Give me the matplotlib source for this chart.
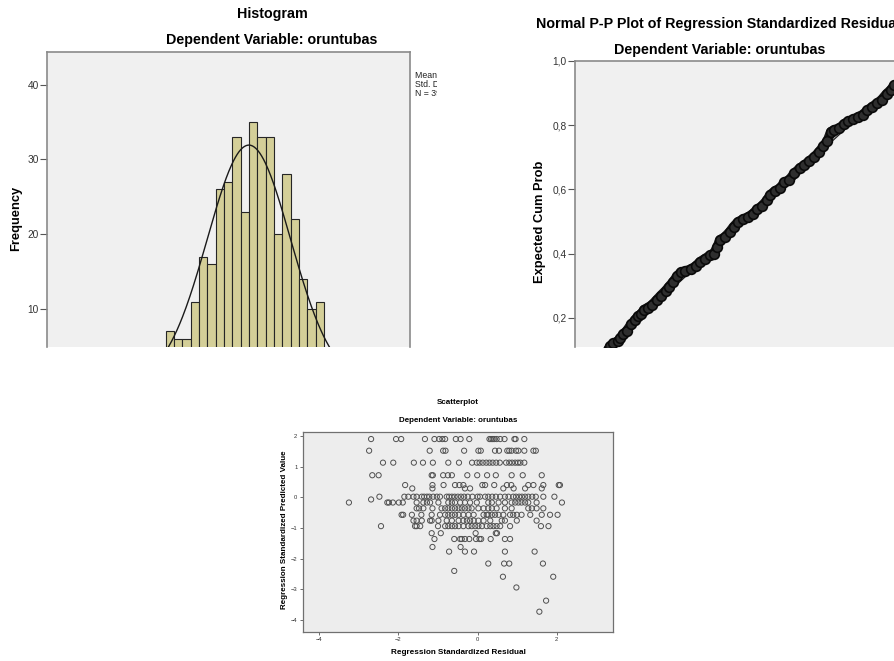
import numpy as np
import matplotlib
matplotlib.use("Agg")
import matplotlib.pyplot as plt
from matplotlib.transforms import Bbox, TransformedBbox

plt.rcParams['font.family'] = ['Liberation Sans', 'DejaVu Sans']

W, H = 895, 661

# Histogram of standardized residuals (visible part only)
bin_edges_start = -2.0
bin_width = 0.2
hist_counts = [7, 6, 6, 11, 17, 16, 26, 27, 33, 23, 35, 33, 33, 20, 28, 22, 14, 10, 11]
curve_mean = 0.0
curve_sd = 1.0
curve_n = 400
hist_yticks = [10, 20, 30, 40]
stats_lines = ["Mean = -1,24E-15", "Std. Dev. = 0,997", "N = 398"]

# Normal P-P plot (observed cum prob, expected cum prob)
pp_observed = [0.106, 0.112, 0.122, 0.135, 0.142, 0.150, 0.160, 0.173, 0.184, 0.192,
               0.202, 0.210, 0.220, 0.232, 0.246, 0.258, 0.272, 0.282, 0.293, 0.305,
               0.315, 0.329, 0.345, 0.359, 0.371, 0.384, 0.400, 0.410, 0.420, 0.428,
               0.442, 0.456, 0.467, 0.479, 0.495, 0.509, 0.523, 0.535, 0.548, 0.563,
               0.573, 0.587, 0.601, 0.613, 0.627, 0.642, 0.658, 0.670, 0.684, 0.698,
               0.712, 0.725, 0.737, 0.747, 0.757, 0.771, 0.785, 0.797, 0.810, 0.824,
               0.838, 0.852, 0.866, 0.880, 0.893, 0.907, 0.919, 0.929]
pp_expected = [0.100, 0.112, 0.121, 0.128, 0.137, 0.150, 0.160, 0.180, 0.194, 0.205,
               0.213, 0.226, 0.232, 0.240, 0.256, 0.270, 0.285, 0.298, 0.312, 0.330,
               0.342, 0.346, 0.352, 0.362, 0.375, 0.384, 0.395, 0.400, 0.420, 0.443,
               0.452, 0.468, 0.484, 0.498, 0.508, 0.514, 0.525, 0.538, 0.548, 0.566,
               0.584, 0.596, 0.604, 0.622, 0.630, 0.650, 0.667, 0.675, 0.688, 0.700,
               0.716, 0.734, 0.752, 0.780, 0.786, 0.790, 0.804, 0.812, 0.818, 0.825,
               0.833, 0.846, 0.858, 0.868, 0.880, 0.898, 0.910, 0.925]
pp_yticks = [0.2, 0.4, 0.6, 0.8, 1.0]
pp_yticklabels = ["0,2", "0,4", "0,6", "0,8", "1,0"]

# Scatterplot: predicted value rows with the residuals read along each row
pred_levels = [1.90, 1.52, 1.13, 0.72, 0.40, 0.29, 0.02, -0.07, -0.17, -0.36,
               -0.57, -0.76, -0.94, -1.17, -1.36, -1.62, -1.77, -2.16, -2.40,
               -2.59, -2.94, -3.37, -3.73]
resid_rows = [
    [-2.69, -2.06, -1.93, -1.33, -1.09, -0.97, -0.89, -0.82, -0.55, -0.43, -0.21,
     0.30, 0.34, 0.38, 0.42, 0.48, 0.57, 0.68, 0.93, 0.96, 1.18],
    [-2.74, -1.21, -0.87, -0.81, -0.34, 0.02, 0.08, 0.44, 0.54, 0.75, 0.80, 0.86,
     0.97, 1.03, 1.18, 1.41, 1.47],
    [-2.39, -2.13, -1.61, -1.38, -1.13, -0.74, -0.47, -0.14, -0.02, 0.05, 0.13,
     0.22, 0.30, 0.38, 0.47, 0.56, 0.72, 0.80, 0.87, 0.95, 1.02, 1.08, 1.18],
    [-2.66, -2.50, -1.16, -1.13, -0.87, -0.75, -0.65, -0.26, -0.01, 0.24, 0.46,
     0.86, 1.14, 1.62],
    [-1.83, -1.14, -0.86, -0.57, -0.46, -0.36, 0.12, 0.19, 0.42, 0.74, 0.85, 1.28,
     1.41, 1.66, 2.05, 2.08],
    [-1.65, -1.14, -0.32, -0.19, 0.65, 0.91, 1.20, 1.62],
    [-2.48, -1.85, -1.75, -1.62, -1.54, -1.41, -1.35, -1.28, -1.22, -1.12, -1.03,
     -0.95, -0.78, -0.72, -0.65, -0.58, -0.50, -0.42, -0.34, -0.25, -0.13, 0.00,
     0.06, 0.19, 0.27, 0.37, 0.46, 0.57, 0.69, 0.78, 0.90, 0.97, 1.05, 1.12, 1.20,
     1.28, 1.38, 1.47, 1.66, 1.94],
    [-2.69],
    [-3.25, -2.28, -2.24, -2.14, -1.99, -1.89, -1.54, -1.37, -1.28, -1.20, -0.99,
     -0.74, -0.65, -0.57, -0.44, -0.32, -0.19, -0.02, 0.27, 0.36, 0.53, 0.69, 0.86,
     0.95, 1.03, 1.11, 1.20, 1.28, 1.49, 2.13],
    [-1.54, -1.48, -1.37, -1.14, -0.91, -0.82, -0.74, -0.65, -0.57, -0.48, -0.40,
     -0.32, -0.23, -0.15, 0.02, 0.15, 0.27, 0.36, 0.48, 0.69, 0.86, 1.28, 1.37,
     1.49, 1.66],
    [-1.92, -1.88, -1.66, -1.42, -1.16, -0.95, -0.82, -0.74, -0.65, -0.57, -0.48,
     -0.36, -0.23, -0.10, 0.15, 0.23, 0.27, 0.36, 0.44, 0.53, 0.65, 0.82, 0.90,
     0.99, 1.11, 1.33, 1.62, 1.83, 2.02],
    [-1.62, -1.54, -1.41, -1.20, -1.16, -0.99, -0.78, -0.65, -0.48, -0.36, -0.27,
     -0.19, -0.10, 0.02, 0.15, 0.32, 0.61, 0.69, 0.99, 1.49],
    [-2.44, -1.58, -1.54, -1.45, -1.00, -0.82, -0.74, -0.65, -0.57, -0.48, -0.36,
     -0.23, -0.15, -0.06, 0.02, 0.11, 0.23, 0.32, 0.40, 0.48, 0.57, 0.82, 1.60, 1.79],
    [-1.16, -0.93, -0.05, 0.46, 0.49],
    [-1.09, -0.59, -0.44, -0.40, -0.32, -0.21, -0.04, 0.05, 0.09, 0.33, 0.69, 0.82],
    [-1.14, -0.43],
    [-0.72, -0.32, -0.09, 0.69, 1.44],
    [0.27, 0.67, 0.80, 1.65],
    [-0.59],
    [0.64, 1.91],
    [0.98],
    [1.73],
    [1.56],
]
sc_xticks = [-4, -2, 0, 2]
sc_yticks = [-4, -3, -2, -1, 0, 1, 2]

fig = plt.figure(figsize=(W / 100, H / 100), dpi=100)
fig.patch.set_facecolor('white')


def px_axes(left, top, right, bottom):
    return fig.add_axes([left / W, 1 - bottom / H, (right - left) / W, (bottom - top) / H])


def px_text(x, y, s, **kw):
    return fig.text(x / W, 1 - y / H, s, **kw)


frame_col = '#8a8a8a'
bg = '#F0F0F0'
title_fs = 10.3
label_fs = 9.3

# ---------------- Histogram ----------------
ax1 = px_axes(47, 52, 410, 347)
ax1.set_facecolor(bg)
edges = bin_edges_start + bin_width * np.arange(len(hist_counts))
ax1.bar(edges, hist_counts, width=bin_width, align='edge', color='#D4CF98',
        edgecolor='#262626', linewidth=0.8)
xs = np.linspace(-4.85, 3.87, 400)
ys = curve_n * bin_width * np.exp(-0.5 * ((xs - curve_mean) / curve_sd) ** 2) / (curve_sd * np.sqrt(2 * np.pi))
ax1.plot(xs, ys, color='#1a1a1a', lw=1.0)
ax1.set_xlim(-4.85, 3.87)
ax1.set_ylim(4.92, 44.36)
ax1.set_xticks([])
ax1.set_yticks(hist_yticks)
ax1.tick_params(axis='y', length=5, width=0.8, color='#555555', labelsize=7.3,
                labelcolor='#333333', pad=1)
for s in ['top', 'left', 'right']:
    ax1.spines[s].set_color(frame_col)
    ax1.spines[s].set_linewidth(1.2)
ax1.spines['bottom'].set_visible(False)

px_text(272, 14, "Histogram", ha='center', va='center', fontsize=title_fs, fontweight='bold')
px_text(272, 40, "Dependent Variable: oruntubas", ha='center', va='center', fontsize=title_fs,
        fontweight='bold')
px_text(16, 218, "Frequency", ha='center', va='center', rotation=90, fontsize=label_fs,
        fontweight='bold')

# the source image crops the legend box, so clip its text at the same place
clip = TransformedBbox(Bbox([[0, 0], [437 / W, 1]]), fig.transFigure)
for i, line in enumerate(stats_lines):
    t = px_text(415, 75 + 9 * i, line, ha='left', va='center', fontsize=6.3, color='#222222')
    t.set_clip_box(clip)
    t.set_clip_on(True)

# ---------------- Normal P-P plot ----------------
ax2 = px_axes(575, 61, 895, 347)
ax2.set_facecolor(bg)
ax2.plot([0, 1], [0, 1], color='#222222', lw=0.9)
ax2.plot(pp_observed, pp_expected, color='#161616', lw=7, solid_capstyle='round')
ax2.plot(pp_observed, pp_expected, linestyle='none', marker='o', ms=7,
         mfc='#2e2e2e', mec='#0a0a0a', mew=1.2)
ax2.set_xlim((575 - 571) / 348, (895 - 571) / 348)
ax2.set_ylim(0.1097, 1.0)
ax2.set_xticks([])
ax2.set_yticks(pp_yticks)
ax2.set_yticklabels(pp_yticklabels)
ax2.tick_params(axis='y', length=5, width=0.8, color='#555555', labelsize=7.3,
                labelcolor='#333333', pad=1)
for s in ['top', 'left']:
    ax2.spines[s].set_color(frame_col)
    ax2.spines[s].set_linewidth(1.2)
ax2.spines['bottom'].set_visible(False)
ax2.spines['right'].set_visible(False)

# title runs past the right edge in the source image as well
px_text(536, 24, "Normal P-P Plot of Regression Standardized Residual", ha='left',
        va='center', fontsize=title_fs, fontweight='bold')
px_text(720, 50, "Dependent Variable: oruntubas", ha='center', va='center', fontsize=title_fs,
        fontweight='bold')
px_text(540, 222, "Expected Cum Prob", ha='center', va='center', rotation=90, fontsize=label_fs,
        fontweight='bold')

# ---------------- Scatterplot ----------------
ax3 = px_axes(303, 432, 613, 631.5)
ax3.set_facecolor('#EDEDED')
sx, sy = [], []
for yv, row in zip(pred_levels, resid_rows):
    sx.extend(row)
    sy.extend([yv] * len(row))
ax3.scatter(sx, sy, s=14, facecolors='none', edgecolors='#505050', linewidths=0.7)
ax3.set_xlim(-4.41, 3.42)
ax3.set_ylim(-4.376, 2.13)
ax3.set_xticks(sc_xticks)
ax3.set_yticks(sc_yticks)
ax3.tick_params(length=2.5, width=0.6, color='#555555', labelsize=4.2,
                labelcolor='#333333', pad=1.5)
for s in ax3.spines.values():
    s.set_color('#707070')
    s.set_linewidth(0.9)

px_text(458, 403, "Scatterplot", ha='center', va='center', fontsize=5.8, fontweight='bold')
px_text(458, 421, "Dependent Variable: oruntubas", ha='center', va='center', fontsize=5.8,
        fontweight='bold')
px_text(458, 652, "Regression Standardized Residual", ha='center', va='center', fontsize=5.9,
        fontweight='bold')
px_text(285, 530, "Regression Standardized Predicted Value", ha='center', va='center',
        rotation=90, fontsize=5.8, fontweight='bold')

fig.savefig('out.png', dpi=100)
